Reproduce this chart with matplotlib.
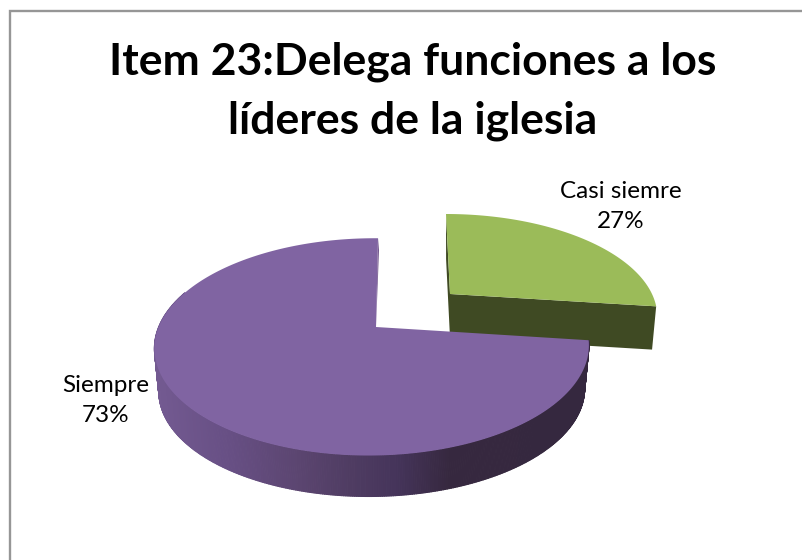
"""
Item 23 exploded 3D pie, projected by hand since matplotlib has no real 3D pie.
Figure data coordinates are image pixels (y down).
"""

import numpy as np
import matplotlib
matplotlib.use('Agg')
import matplotlib.pyplot as plt
from matplotlib.collections import PolyCollection
from matplotlib.colors import LinearSegmentedColormap
from matplotlib.patches import Polygon

W, H = 803, 560

title = 'Item 23:Delega funciones a los\nlíderes de la iglesia'
categories = ['Casi siemre', 'Siempre']
shares = [27, 73]

# ---- projection of each slice: apex, scale, perspective ----
GREEN_VIEW = dict(ax=450, ay=294, sx=202, sy=96, b=-4.8, k=0.2, j=0.0)
PURPLE_VIEW = dict(ax=376, ay=327, sx=213.5, sy=105, b=2.4, k=0.183, j=0.0176)
SHRINK = 0.98
DEPTH = 43.5


def project(view, t, r=1.0, z=0.0):
    """t: clockwise degrees from 12 o'clock on the unit disk, z=1 is the bottom face."""
    rad = np.radians(t)
    u, v = r * np.sin(rad), r * np.cos(rad)
    w = 1 + view['k'] * v + view['j'] * u
    x = (view['sx'] * u + view['b'] * v) / w
    y = -view['sy'] * v / w
    scale = 1 - (1 - SHRINK) * z
    return np.column_stack([view['ax'] + x * scale, view['ay'] + y * scale + DEPTH * z])


def top_face(view, t0, t1):
    ts = np.linspace(t0, t1, 200)
    return np.vstack([project(view, np.array([t0]), r=0.0), project(view, ts)])


def cut_face(view, t):
    ts = np.array([t])
    return np.vstack([project(view, ts, 0.0), project(view, ts, 1.0),
                      project(view, ts, 1.0, 1.0), project(view, ts, 0.0, 1.0)])


# slice angles come from the shares
green_end = 360 * shares[0] / sum(shares)

fig = plt.figure(figsize=(W / 100, H / 100), dpi=100)
ax = fig.add_axes([0, 0, 1, 1])
ax.set_xlim(0, W)
ax.set_ylim(H, 0)
ax.axis('off')

# chart frame, only top and left are inside the crop
ax.plot([10.5, 10.5, W], [H, 10.5, 10.5], color='#969696', lw=1.7, solid_joinstyle='miter')

# green slice, back to front
ax.add_patch(Polygon(cut_face(GREEN_VIEW, 0), fc='#3f4a23', ec='none'))
ax.add_patch(Polygon(cut_face(GREEN_VIEW, green_end), fc='#3f4a23', ec='none'))
ax.add_patch(Polygon(top_face(GREEN_VIEW, 0, green_end), fc='#9bbb59', ec='none'))

# purple outer wall, colour follows the screen x like the reference shading
wall_stops = [(0.0, '#735a91'), (0.17, '#674f84'), (0.33, '#5b4570'), (0.45, '#4f3c62'),
              (0.56, '#45345a'), (0.68, '#36283f'), (1.0, '#35283f')]
wall_cmap = LinearSegmentedColormap.from_list('wall', wall_stops)
edges = np.linspace(green_end, 290, 400)
top_ring = project(PURPLE_VIEW, edges)
low_ring = project(PURPLE_VIEW, edges, z=1.0)
quads = [np.vstack([top_ring[i], top_ring[i + 1], low_ring[i + 1], low_ring[i]])
         for i in range(len(edges) - 1)]
mid_x = (top_ring[:-1, 0] + top_ring[1:, 0]) / 2
wall_colors = wall_cmap((mid_x - mid_x.min()) / (mid_x.max() - mid_x.min()))
ax.add_collection(PolyCollection(quads, facecolors=wall_colors, edgecolors=wall_colors, linewidths=0.8))

# purple top, thin lit cut at 12 o'clock
ax.add_patch(Polygon(top_face(PURPLE_VIEW, green_end, 360), fc='#8064a2', ec='none'))
sliver = np.vstack([project(PURPLE_VIEW, np.array([0.0]), 0.0),
                    project(PURPLE_VIEW, np.array([0.0]), 1.0),
                    project(PURPLE_VIEW, np.array([0.0]), 1.0) + [1.0, 12.0]])
ax.add_patch(Polygon(sliver, fc='#75598f', ec='none'))

font = ['Lato', 'DejaVu Sans']
ax.text(413, 91.5, title, ha='center', va='center', fontsize=32, fontweight='bold',
        family=font, color='black', linespacing=1.565)
ax.text(620.5, 206.5, f'{categories[0]}\n{shares[0]}%', ha='center', va='center', fontsize=17.5,
        family=font, color='black', linespacing=1.58)
ax.text(105.5, 400.5, f'{categories[1]}\n{shares[1]}%', ha='center', va='center', fontsize=17.5,
        family=font, color='black', linespacing=1.58)

fig.savefig('out.png', dpi=100)
